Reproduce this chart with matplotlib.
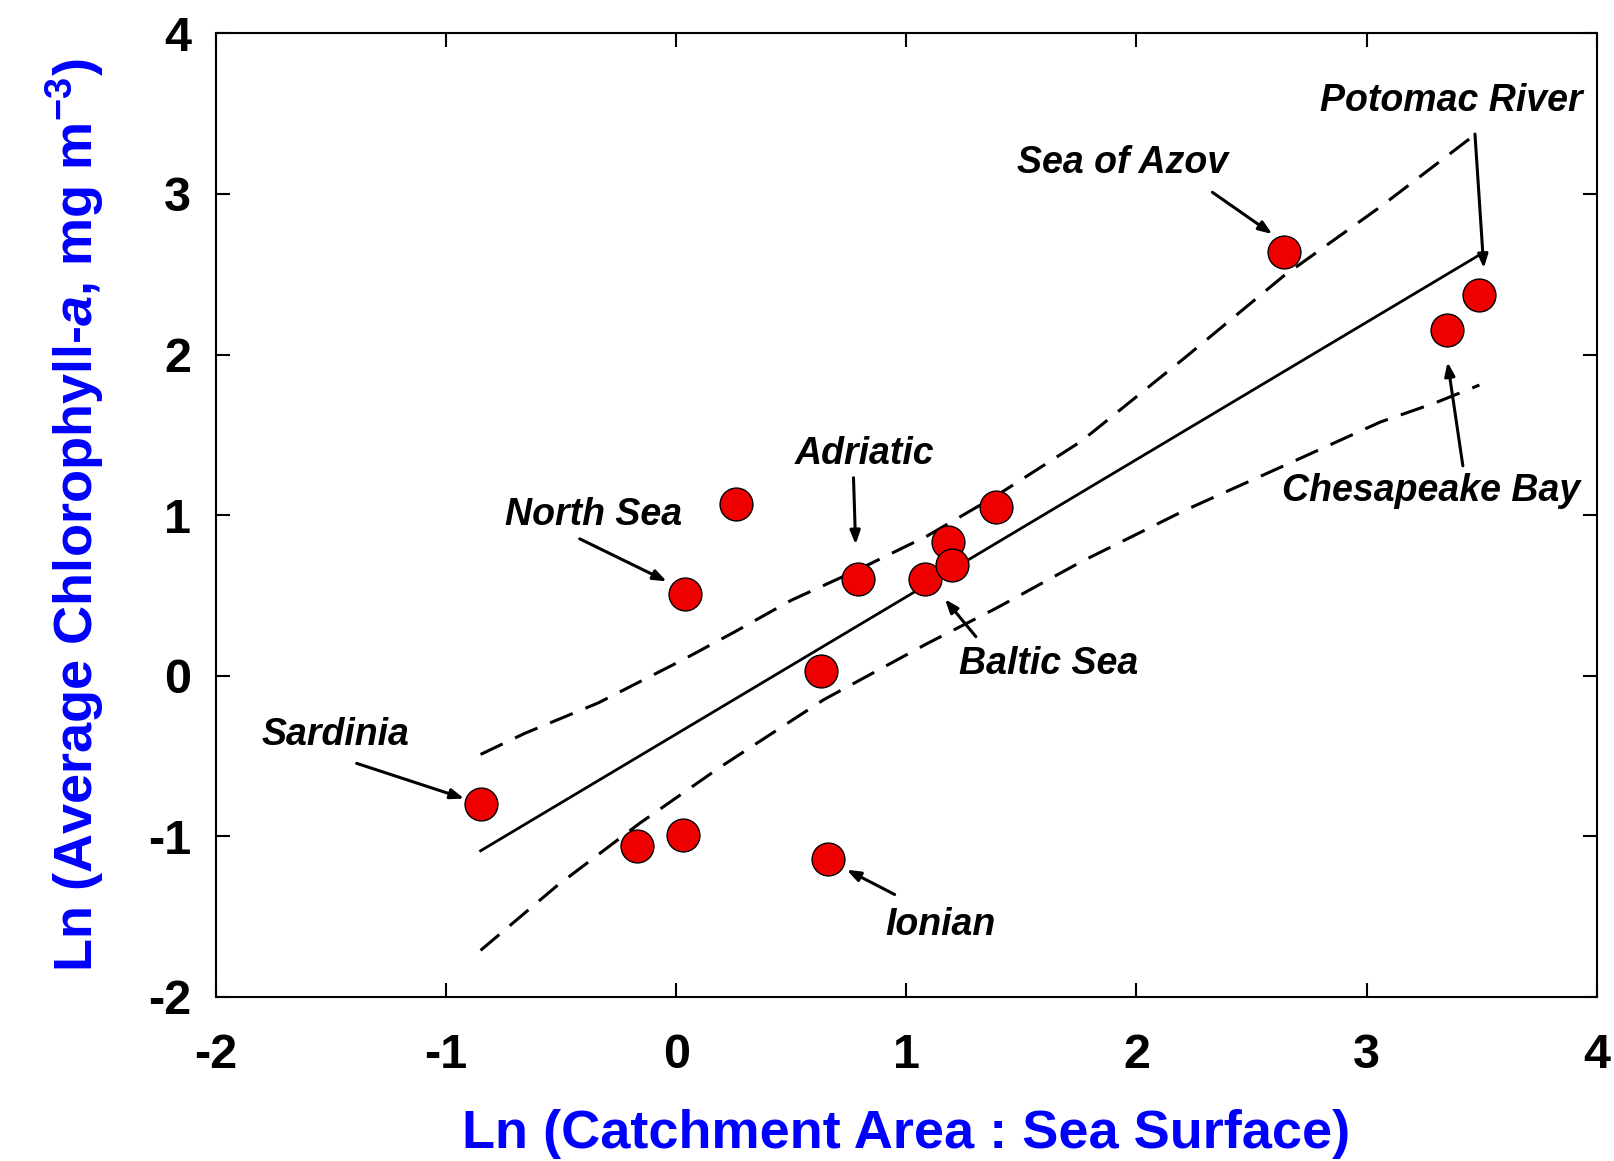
import matplotlib
matplotlib.use("Agg")
import matplotlib.pyplot as plt

plt.rcParams['font.family'] = ['Liberation Sans', 'DejaVu Sans']
plt.rcParams['mathtext.fontset'] = 'custom'
plt.rcParams['mathtext.rm'] = 'Liberation Sans:bold'
plt.rcParams['mathtext.it'] = 'Liberation Sans:bold:italic'
plt.rcParams['mathtext.bf'] = 'Liberation Sans:bold'
plt.rcParams['axes.unicode_minus'] = False

# observed seas
x_pts = [-0.85, -0.17, 0.03, 0.04, 0.26, 0.63, 0.66, 0.79, 1.08, 1.18, 1.20, 1.39, 2.64, 3.35, 3.49]
y_pts = [-0.80, -1.06, -0.99, 0.51, 1.07, 0.03, -1.14, 0.60, 0.60, 0.83, 0.69, 1.05, 2.64, 2.15, 2.37]

# regression line
x_fit = [-0.85, 3.49]
y_fit = [-1.09, 2.62]

# confidence band
x_up = [-0.85, -0.66, -0.34, 0.03, 0.25, 0.50, 0.79, 1.09, 1.39, 1.76, 2.21, 2.64, 3.06, 3.49]
y_up = [-0.49, -0.36, -0.17, 0.10, 0.27, 0.47, 0.66, 0.87, 1.12, 1.46, 1.98, 2.49, 2.92, 3.39]
x_lo = [-0.85, -0.52, -0.16, 0.19, 0.64, 1.09, 1.39, 1.76, 2.21, 2.66, 3.06, 3.30, 3.49]
y_lo = [-1.71, -1.31, -0.92, -0.57, -0.15, 0.20, 0.42, 0.71, 1.03, 1.32, 1.58, 1.70, 1.81]

# labels: name, text position, arrow tail, arrow head
labels = ["Sardinia", "North Sea", "Adriatic", "Baltic Sea", "Ionian",
          "Chesapeake Bay", "Sea of Azov", "Potomac River"]
text_xy = [(-1.48, -0.37), (-0.36, 1.00), (0.82, 1.38), (1.62, 0.07), (1.15, -1.55),
           (3.28, 1.15), (1.94, 3.19), (3.37, 3.58)]
tail_xy = [(-1.40, -0.54), (-0.43, 0.86), (0.77, 1.25), (1.31, 0.23), (0.96, -1.37),
           (3.42, 1.29), (2.32, 3.02), (3.47, 3.39)]
head_xy = [(-0.91, -0.77), (-0.03, 0.58), (0.78, 0.80), (1.16, 0.49), (0.73, -1.20),
           (3.35, 1.97), (2.60, 2.74), (3.51, 2.52)]

fig = plt.figure(figsize=(16.15, 11.61), dpi=100)
ax = fig.add_axes([0.1337, 0.1413, 0.855, 0.830])

ax.plot(x_fit, y_fit, color='black', lw=2)
ax.plot(x_up, y_up, color='black', lw=2.2, dashes=(8, 4.5))
ax.plot(x_lo, y_lo, color='black', lw=2.2, dashes=(8, 4.5))
ax.scatter(x_pts, y_pts, s=560, color='#ee0000', edgecolor='black', linewidth=1, zorder=3)

for name, t, a, b in zip(labels, text_xy, tail_xy, head_xy):
    ax.text(t[0], t[1], name, fontsize=27, fontweight='bold', fontstyle='italic',
            ha='center', va='center')
    ax.annotate("", xy=b, xytext=a,
                arrowprops=dict(arrowstyle='-|>,head_length=0.8,head_width=0.3',
                                color='black', lw=2.2))

ax.set_xlim(-2, 4)
ax.set_ylim(-2, 4)
ax.set_xticks([-2, -1, 0, 1, 2, 3, 4])
ax.set_yticks([-2, -1, 0, 1, 2, 3, 4])
ax.tick_params(direction='in', length=10, width=1.5, top=True, right=True,
               labelsize=35)
ax.tick_params(axis='x', pad=26)
ax.tick_params(axis='y', pad=18)
for lbl in ax.get_xticklabels() + ax.get_yticklabels():
    lbl.set_fontweight('bold')
for sp in ax.spines.values():
    sp.set_linewidth(1.5)

ax.set_xlabel("Ln (Catchment Area : Sea Surface)", fontsize=39, fontweight='bold',
              color='blue', labelpad=22)
ax.set_ylabel(r"Ln (Average Chlorophyll-$\mathit{a}$, mg m$^{-3}$)", fontsize=39,
              fontweight='bold', color='blue', labelpad=30)

fig.savefig("out.png")
